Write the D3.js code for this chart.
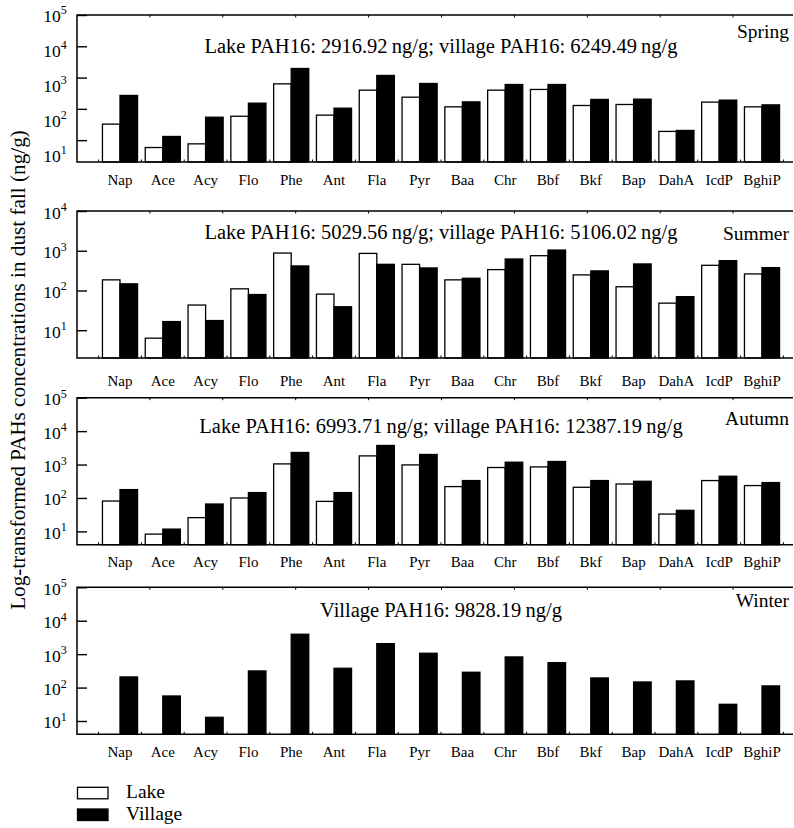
<!DOCTYPE html>
<html><head><meta charset="utf-8">
<script src="https://cdn.jsdelivr.net/npm/d3@7"></script>
<style>
body{margin:0;background:#fff}
svg{display:block}
svg text{font-family:"Liberation Serif","DejaVu Serif",serif;fill:#000}
</style>
</head><body>
<svg id="c" width="794" height="828" font-family="Liberation Serif, DejaVu Serif, serif"></svg>
<script>
// ---------- DATA ----------
const categories = ["Nap","Ace","Acy","Flo","Phe","Ant","Fla","Pyr","Baa","Chr","Bbf","Bkf","Bap","DahA","IcdP","BghiP"];
const seasons = ["Spring","Summer","Autumn","Winter"];
const seriesNames = ["Lake","Village"];

const springLake    = [32.5, 5.8, 7.6, 58, 630, 63, 396, 236, 116, 396, 417, 128, 138, 19, 164, 116];
const springVillage = [268, 13.1, 54, 152, 1950, 105, 1167, 647, 167, 600, 600, 200, 204, 20.4, 190, 134];
const summerLake    = [185, 6.3, 43, 110, 875, 81, 857, 455, 185, 335, 750, 247, 124, 48, 430, 261];
const summerVillage = [147, 16.5, 17.5, 79, 414, 39, 455, 369, 203, 620, 1040, 311, 465, 70, 562, 376];
const autumnLake    = [81, 8.3, 25.8, 100, 1045, 79, 1816, 975, 219, 815, 849, 209, 262, 33, 332, 235];
const autumnVillage = [178, 11.7, 66, 145, 2296, 145, 3724, 2000, 332, 1175, 1233, 332, 316, 42.7, 447, 289];
const winterLake    = null;
const winterVillage = [208, 56, 12.9, 314, 3944, 378, 2061, 1064, 287, 825, 557, 194, 147, 158, 31.6, 112];

const totalsText = [
  "Lake PAH16: 2916.92\u2009ng/g; village PAH16: 6249.49\u2009ng/g",
  "Lake PAH16: 5029.56\u2009ng/g; village PAH16: 5106.02\u2009ng/g",
  "Lake PAH16: 6993.71\u2009ng/g; village PAH16: 12387.19\u2009ng/g",
  "Village PAH16: 9828.19\u2009ng/g"
];
const yDomainMin = [2, 2, 4, 4];
const yDomainMax = [1e5, 1e4, 1e5, 1e5];
const yTickExponents = [[5,4,3,2,1],[4,3,2,1],[5,4,3,2,1],[5,4,3,2,1]];
const yTitle = "Log-transformed PAHs concentrations in dust fall (ng/g)";

const lakeData = [springLake, summerLake, autumnLake, winterLake];
const villageData = [springVillage, summerVillage, autumnVillage, winterVillage];

// ---------- LAYOUT ----------
const FONT = "'Liberation Serif', 'DejaVu Serif', serif";
const svg = d3.select("#c");
const plotLeft = 77, plotRight = 793, panelH = 147;
const panelTop = [15, 211, 397.7, 587.3];
const catLabelOffset = [23, 27.5, 22.4, 22.7];
const annotBaseline = [53.3, 239.3, 432.7, 616.7];
const seasonBaseline = [38.3, 240, 425, 607.3];

const x = d3.scaleBand().domain(categories).range([98.6, 783.4]).paddingInner(0.18).paddingOuter(0.09);
const xs = d3.scaleBand().domain(seriesNames).range([0, x.bandwidth()]);
const gap = (x.step() - x.bandwidth()) / 2;
const topTickScale = d3.scaleLinear().domain([0, 1]).range([plotLeft, plotLeft + 72.9]);

seasons.forEach((season, i) => {
  const top = panelTop[i], bottom = top + panelH;
  const y = d3.scaleLog().domain([yDomainMin[i], yDomainMax[i]]).range([bottom, top]);
  const g = svg.append("g");

  const rows = [];
  categories.forEach((c, j) => {
    if (lakeData[i]) rows.push({c, s: "Lake", v: lakeData[i][j]});
    rows.push({c, s: "Village", v: villageData[i][j]});
  });
  g.selectAll("rect.bar").data(rows).join("rect")
    .attr("class", "bar")
    .attr("x", d => x(d.c) + xs(d.s))
    .attr("width", xs.bandwidth())
    .attr("y", d => y(d.v))
    .attr("height", d => bottom - y(d.v))
    .attr("fill", d => d.s === "Lake" ? "#fff" : "#000")
    .attr("stroke", "#000")
    .attr("stroke-width", 1.3);

  g.append("path")
    .attr("d", `M${plotRight},${top}H${plotLeft}V${bottom}H${plotRight}`)
    .attr("fill", "none").attr("stroke", "#000").attr("stroke-width", 1.5);

  const bounds = categories.map(c => x(c) - gap).concat([x(categories[categories.length-1]) + x.bandwidth() + gap]);
  g.selectAll("line.bt").data(bounds).join("line")
    .attr("x1", d => d).attr("x2", d => d)
    .attr("y1", bottom).attr("y2", bottom - 2.5)
    .attr("stroke", "#000").attr("stroke-width", 1);
  g.selectAll("line.tt").data(d3.range(1, 10)).join("line")
    .attr("x1", d => topTickScale(d)).attr("x2", d => topTickScale(d))
    .attr("y1", top).attr("y2", top + 2.5)
    .attr("stroke", "#000").attr("stroke-width", 1);

  const tickVals = yTickExponents[i].map(e => Math.pow(10, e));
  const axis = d3.axisRight(y).tickValues(tickVals).tickSize(10).tickFormat("");
  const ag = g.append("g").attr("transform", `translate(${plotLeft},0)`).call(axis);
  ag.select(".domain").remove();
  ag.selectAll("line").attr("stroke", "#000").attr("stroke-width", 1.4);

  const maxE = yTickExponents[i][0];
  const labelY = i === 0
    ? d3.scaleLog().domain([10, Math.pow(10, maxE)]).range([161.7, 21.7])
    : d3.scaleLog().domain([10, Math.pow(10, maxE)]).range([y(10) + 7.5, y(Math.pow(10, maxE)) + 7.5]);
  yTickExponents[i].forEach(e => {
    const t = g.append("text").attr("x", 66.7).attr("y", labelY(Math.pow(10, e)))
      .attr("text-anchor", "end").attr("font-family", FONT).style("font-size", "17.5px");
    t.append("tspan").text("10");
    t.append("tspan").attr("dy", -7.5).style("font-size", "12px").text(String(e));
  });

  g.selectAll("text.cat").data(categories).join("text")
    .attr("class", "cat")
    .attr("x", d => x(d) + x.bandwidth() / 2)
    .attr("y", bottom + catLabelOffset[i])
    .attr("text-anchor", "middle")
    .attr("font-family", FONT)
    .style("font-size", "15px")
    .text(d => d);

  g.append("text").attr("x", 441).attr("y", annotBaseline[i])
    .attr("text-anchor", "middle").attr("font-family", FONT)
    .style("font-size", "20.5px").text(totalsText[i]);
  g.append("text").attr("x", 789).attr("y", seasonBaseline[i])
    .attr("text-anchor", "end").attr("font-family", FONT)
    .style("font-size", "19.5px").text(season);
});

const yt = svg.append("text")
  .attr("transform", "translate(25,370) rotate(-90)")
  .attr("text-anchor", "middle")
  .attr("font-family", FONT)
  .style("font-size", "18px")
  .text(yTitle);
const len = yt.node().getComputedTextLength();
yt.style("font-size", (18 * 480 / len).toFixed(2) + "px");

const legend = svg.append("g");
const legY = [787.3, 809];
seriesNames.forEach((s, k) => {
  legend.append("rect").attr("x", 77.5).attr("y", legY[k]).attr("width", 30.5).attr("height", 11.5)
    .attr("fill", s === "Lake" ? "#fff" : "#000").attr("stroke", "#000").attr("stroke-width", 1.3);
  legend.append("text").attr("x", 126).attr("y", legY[k] + 11).attr("font-family", FONT)
    .style("font-size", "19.5px").text(s);
});
</script>
</body></html>
